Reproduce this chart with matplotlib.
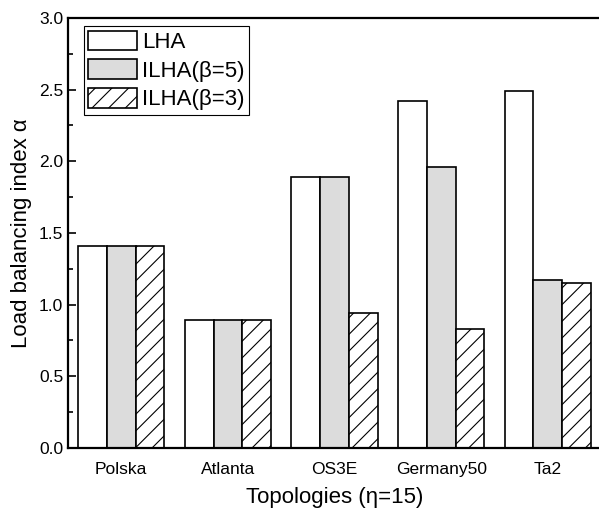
import matplotlib
matplotlib.use("Agg")
import matplotlib.pyplot as plt
from matplotlib.ticker import MultipleLocator
import numpy as np

plt.rcParams["font.family"] = ["Liberation Sans", "DejaVu Sans"]
plt.rcParams["hatch.linewidth"] = 0.8

topologies = ["Polska", "Atlanta", "OS3E", "Germany50", "Ta2"]
lha = [1.41, 0.89, 1.89, 2.42, 2.49]
ilha_b5 = [1.41, 0.89, 1.89, 1.96, 1.17]
ilha_b3 = [1.41, 0.89, 0.94, 0.83, 1.15]

fig = plt.figure(figsize=(5.99, 5.11), dpi=100)
ax = fig.add_axes([0.1135, 0.1233, 0.89, 0.8415])

x = np.arange(len(topologies))
w = 0.27
ax.bar(x - w, lha, w, color="white", edgecolor="black", linewidth=1.2, label="LHA")
ax.bar(x, ilha_b5, w, color="#dcdcdc", edgecolor="black", linewidth=1.2, label="ILHA(β=5)")
ax.bar(x + w, ilha_b3, w, color="white", edgecolor="black", linewidth=1.2,
       hatch="//", label="ILHA(β=3)")

ax.set_xlim(-0.5, 4.5)
ax.set_ylim(0, 3.0)
ax.set_xticks(x)
ax.set_xticklabels(topologies, fontsize=12.5)
ax.yaxis.set_major_locator(MultipleLocator(0.5))
ax.yaxis.set_minor_locator(MultipleLocator(0.25))
ax.tick_params(axis="y", which="major", direction="in", length=6, width=1.2, labelsize=12.5)
ax.tick_params(axis="y", which="minor", direction="in", length=3.5, width=1.2)
ax.tick_params(axis="x", length=0, pad=10)
for s in ax.spines.values():
    s.set_linewidth(1.6)

ax.set_xlabel("Topologies (η=15)", fontsize=16, labelpad=7)
ax.set_ylabel("Load balancing index α", fontsize=16, labelpad=5)

leg = ax.legend(loc="upper left", bbox_to_anchor=(0.03, 0.981), fontsize=16,
                fancybox=False, edgecolor="black", framealpha=1,
                handlelength=2.2, handleheight=1.0, labelspacing=0.27,
                handletextpad=0.2, borderpad=0.2, borderaxespad=0)
leg.get_frame().set_linewidth(0.8)

fig.savefig("out.png", dpi=100)
